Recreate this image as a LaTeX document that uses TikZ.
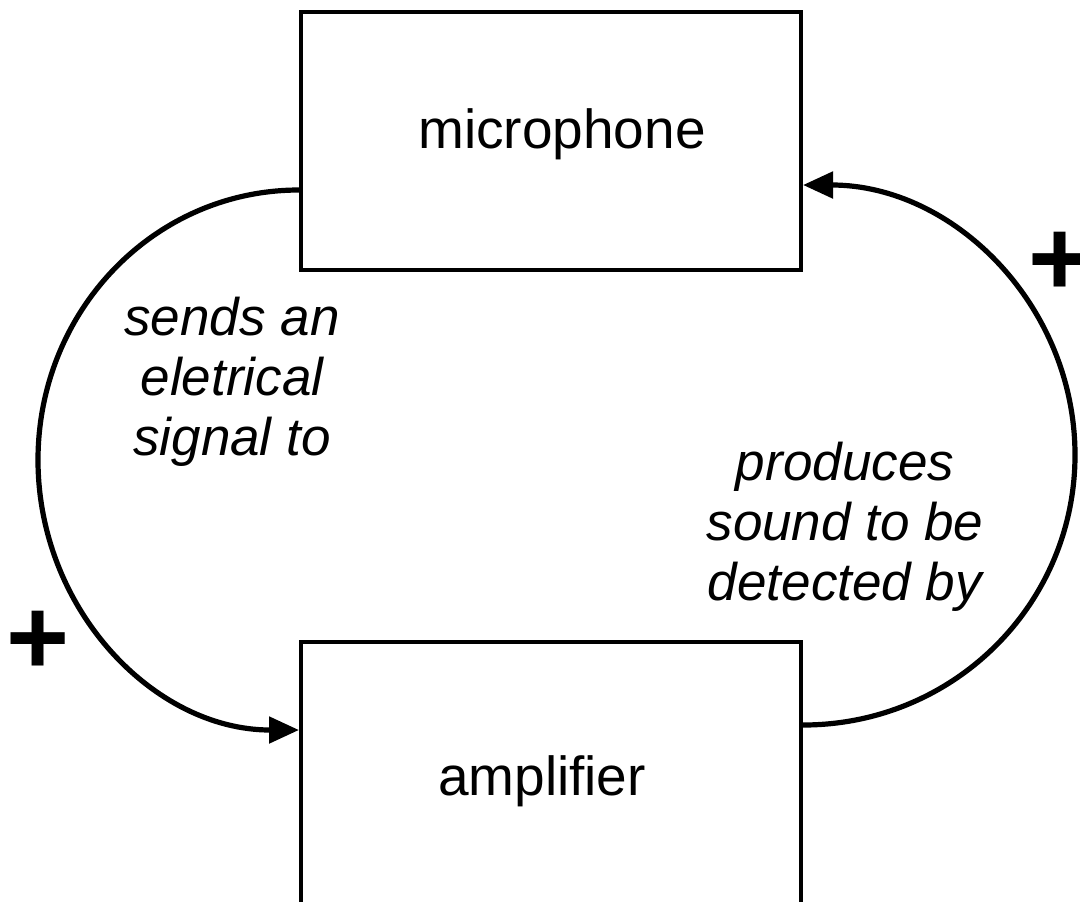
\documentclass[tikz,border=0pt]{standalone}
\usepackage{fontspec}
\setmainfont{Liberation Sans}
\usetikzlibrary{arrows.meta,calc}
\begin{document}
\begin{tikzpicture}[x=0.5pt,y=-0.5pt,
  blockbox/.style={draw=black,line width=2pt,fill=white,minimum width=250pt,minimum height=129pt,inner sep=0pt},
  boxtext/.style={anchor=base,font=\fontsize{27.5}{30}\selectfont,inner sep=0pt},
  linktext/.style={align=center,font=\fontsize{26.5}{30}\selectfont\itshape,inner sep=0pt},
  conn/.style={line width=2.6pt,-{Triangle[length=15pt,width=13pt]}},
  signmark/.style={font=\fontsize{54}{54}\selectfont\bfseries,inner sep=0pt}]
  \useasboundingbox (0,0) rectangle (1080,901);
  % the two blocks
  \node[blockbox] (mic) at (551,141) {};
  \node[blockbox,minimum height=131pt] (amp) at (551,773) {};
  \node[boxtext] (mictext) at (562,148) {microphone};
  \node[boxtext] (amptext) at (542,795) {amplifier};
  % connector end points on the blocks
  \coordinate (l0) at ($(mic.west)+(0,49)$);
  \coordinate (l1) at ($(amp.west)+(0,-43)$);
  \coordinate (r0) at ($(amp.east)+(0,-48)$);
  \coordinate (r1) at ($(mic.east)+(0,44)$);
  \coordinate (lmid) at (38,460);
  \coordinate (rmid) at (1075,455);
  % left loop: microphone -> amplifier
  \draw[conn] (l0) .. controls +(-145,0) and +(0,-149) .. (lmid)
                   .. controls +(0,149) and +(-145,0) .. (l1);
  % right loop: amplifier -> microphone
  \draw[conn] (r0) .. controls +(151,0) and +(0,149) .. (rmid)
                   .. controls +(0,-149) and +(151,0) .. (r1);
  % link labels (base anchor sits on the last line)
  \node[linktext,anchor=base] (ltext) at (232,455) {sends an\\eletrical\\signal to};
  \node[linktext,anchor=base] (rtext) at (845,600) {produces\\sound to be\\detected by};
  % polarity signs
  \node[signmark] (lsign) at (38.5,643) {+};
  \node[signmark] (rsign) at (1060,264) {+};
\end{tikzpicture}
\end{document}
